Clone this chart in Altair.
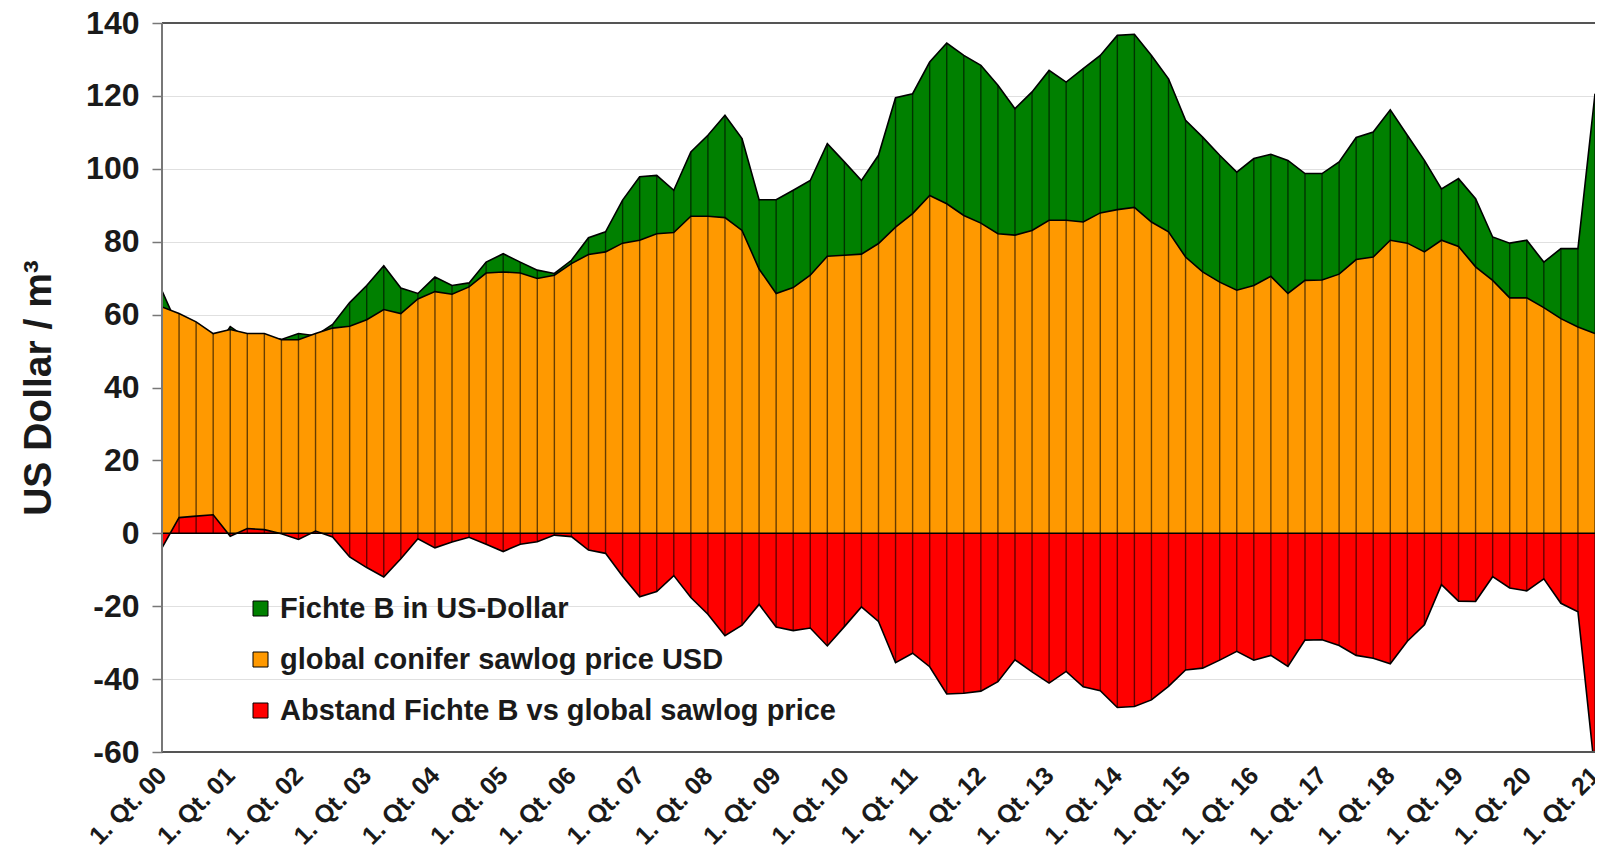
import altair as alt
import pandas as pd

tick_labels = ["1. Qt. 00", "1. Qt. 01", "1. Qt. 02", "1. Qt. 03", "1. Qt. 04", "1. Qt. 05",
               "1. Qt. 06", "1. Qt. 07", "1. Qt. 08", "1. Qt. 09", "1. Qt. 10", "1. Qt. 11",
               "1. Qt. 12", "1. Qt. 13", "1. Qt. 14", "1. Qt. 15", "1. Qt. 16", "1. Qt. 17",
               "1. Qt. 18", "1. Qt. 19", "1. Qt. 20", "1. Qt. 21"]

fichte = [66.5, 56.0, 53.3, 49.7, 56.7, 53.5, 53.8, 53.2, 54.8, 54.2,
          57.3, 63.3, 68.0, 73.4, 67.3, 65.8, 70.3, 68.0, 68.7, 74.4,
          76.7, 74.4, 72.2, 71.3, 74.9, 81.1, 82.7, 91.4, 97.8, 98.2,
          94.1, 104.6, 109.2, 114.7, 108.3, 91.5, 91.5, 94.1, 96.8, 106.9,
          101.9, 96.8, 103.7, 119.5, 120.6, 129.3, 134.5, 131.1, 128.4, 122.9,
          116.5, 121.1, 127.0, 123.8, 127.5, 131.1, 136.6, 136.9, 131.1, 124.7,
          113.3, 108.7, 103.7, 99.1, 102.8, 104.0, 102.3, 98.7, 98.7, 101.9,
          108.6, 110.1, 116.2, 109.2, 102.3, 94.5, 97.3, 91.8, 81.3, 79.6,
          80.4, 74.4, 78.1, 78.1, 120.6]

sawlog = [62.1, 60.3, 58.0, 54.8, 55.9, 54.8, 54.8, 53.1, 53.1, 54.8,
          56.3, 56.8, 58.6, 61.4, 60.3, 64.3, 66.3, 65.6, 67.6, 71.4,
          71.7, 71.4, 69.9, 70.8, 74.0, 76.5, 77.2, 79.6, 80.4, 82.2,
          82.5, 87.0, 87.0, 86.6, 83.1, 72.5, 65.8, 67.4, 70.8, 76.0,
          76.3, 76.6, 79.5, 84.0, 87.7, 92.7, 90.4, 87.2, 85.1, 82.2,
          81.8, 83.1, 85.9, 85.9, 85.4, 87.9, 88.8, 89.4, 85.4, 82.7,
          75.8, 71.7, 68.9, 66.7, 68.0, 70.5, 65.8, 69.4, 69.5, 71.1,
          75.1, 75.8, 80.4, 79.6, 77.2, 80.4, 78.7, 73.1, 69.4, 64.6,
          64.6, 61.9, 58.9, 56.6, 54.8]

abstand = [-4.0, 4.3, 4.7, 5.1, -0.8, 1.3, 1.0, -0.1, -1.7, 0.6,
           -1.0, -6.5, -9.4, -12.0, -7.0, -1.5, -4.0, -2.4, -1.1, -3.0,
           -5.0, -3.0, -2.3, -0.5, -0.9, -4.6, -5.5, -11.8, -17.4, -16.0,
           -11.6, -17.6, -22.2, -28.1, -25.2, -19.5, -25.7, -26.7, -26.0, -30.9,
           -25.6, -20.2, -24.2, -35.5, -32.9, -36.6, -44.1, -43.9, -43.3, -40.7,
           -34.7, -38.0, -41.1, -37.9, -42.1, -43.2, -47.8, -47.5, -45.7, -42.0,
           -37.5, -37.0, -34.8, -32.4, -34.8, -33.5, -36.5, -29.3, -29.2, -30.8,
           -33.5, -34.3, -35.8, -29.6, -25.1, -14.1, -18.6, -18.7, -11.9, -15.0,
           -15.8, -12.5, -19.2, -21.5, -65.8]

series_names = ["Fichte B in US-Dollar", "global conifer sawlog price USD",
                "Abstand Fichte B vs global sawlog price"]
series_colors = ["#008000", "#FF9900", "#FF0000"]

W, H = 1433, 729
FONT = "Liberation Sans"

n = len(sawlog)
frames = []
for name, vals in zip(series_names, [fichte, sawlog, abstand]):
    frames.append(pd.DataFrame({"idx": list(range(n)), "value": vals,
                                "base": [0.0] * n, "series": [name] * n}))
df = pd.concat(frames, ignore_index=True)

label_array = "[" + ",".join("'%s'" % t for t in tick_labels) + "]"
x_enc = alt.X("idx:Q",
              scale=alt.Scale(domain=[0, n - 1], nice=False, zero=False),
              axis=alt.Axis(values=[4 * i for i in range(len(tick_labels))],
                            labelExpr=label_array + "[round(datum.value/4)]",
                            labelAngle=315, labelAlign="right", labelBaseline="middle",
                            labelFont=FONT, labelFontSize=25, labelFontWeight="bold",
                            labelColor="#1a1a1a", labelPadding=19, labelFlush=False,
                            labelOverlap=False, labelBound=False,
                            ticks=False, grid=False, domain=False, title=None))
y_axis = alt.Axis(values=list(range(-60, 141, 20)),
                  labelExpr="'' + datum.value",
                  labelFont=FONT, labelFontSize=32, labelFontWeight="bold",
                  labelColor="#1a1a1a", labelPadding=13,
                  tickSize=10, tickColor="#777777", tickWidth=1.5,
                  grid=True, gridColor="#e0e0e0", gridWidth=1,
                  domain=False,
                  title="US Dollar / m³", titleFont=FONT, titleFontSize=39,
                  titleFontWeight="bold", titleColor="#1a1a1a", titlePadding=27)
y_scale = alt.Scale(domain=[-60, 140], nice=False, zero=False)
y_enc = alt.Y("value:Q", scale=y_scale, axis=y_axis)
color_enc = alt.Color("series:N",
                      scale=alt.Scale(domain=series_names, range=series_colors),
                      legend=alt.Legend(orient="none", legendX=84, legendY=571, title=None,
                                        symbolType="square", symbolSize=225,
                                        symbolStrokeColor="black", symbolStrokeWidth=1,
                                        symbolOpacity=1,
                                        labelFont=FONT, labelFontSize=29, labelFontWeight="bold",
                                        labelColor="#1a1a1a", labelOffset=5,
                                        rowPadding=21, labelLimit=800))

base = alt.Chart(df)
layers = []
for name in series_names:
    sub = base.transform_filter(alt.datum.series == name)
    layers.append(sub.mark_area(clip=True, opacity=1).encode(x=x_enc, y=y_enc, y2="base:Q", color=color_enc))
    layers.append(sub.mark_rule(clip=True, color="black", opacity=0.6, strokeWidth=1.4)
                  .encode(x=x_enc, y=y_enc, y2="base:Q"))
    layers.append(sub.mark_line(clip=True, color="black", strokeWidth=1.6)
                  .encode(x=x_enc, y=y_enc))

zero_line = alt.Chart(pd.DataFrame({"value": [0.0]})).mark_rule(color="black", strokeWidth=1.5).encode(
    y=y_enc)
top_border = alt.Chart(pd.DataFrame({"a": [0]})).mark_rule(color="#555555", strokeWidth=2).encode(
    x=alt.value(0), x2=alt.value(W), y=alt.value(0))
bottom_border = alt.Chart(pd.DataFrame({"a": [0]})).mark_rule(color="#555555", strokeWidth=2).encode(
    x=alt.value(0), x2=alt.value(W), y=alt.value(H))
left_border = alt.Chart(pd.DataFrame({"a": [0]})).mark_rule(color="#777777", strokeWidth=2).encode(
    x=alt.value(0), y=alt.value(0), y2=alt.value(H))

chart = alt.layer(*layers, zero_line, top_border, bottom_border, left_border).properties(
    width=W, height=H,
    autosize=alt.AutoSizeParams(type="none"),
    padding={"left": 154, "top": 15, "right": 0, "bottom": 97},
    background="white",
).configure_view(stroke=None)

chart.save("out.html", embed_options={"renderer": "svg", "actions": False})
